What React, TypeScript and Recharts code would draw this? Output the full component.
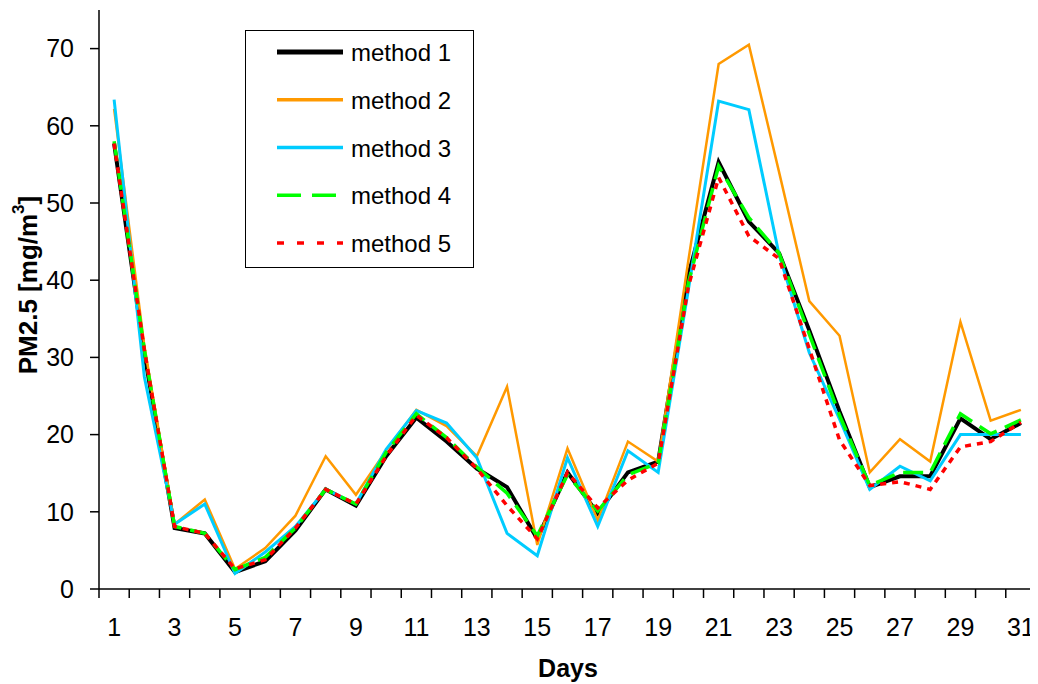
import React from 'react';
import { LineChart, Line, XAxis, YAxis, Legend, Label } from 'recharts';

const DAYS = [
  1, 2, 3, 4, 5, 6, 7, 8, 9, 10, 11, 12, 13, 14, 15, 16, 17, 18, 19, 20, 21, 22, 23, 24, 25, 26,
  27, 28, 29, 30, 31,
];

const METHOD_1 = [
  57.7, 30.5, 7.9, 7.2, 2.2, 3.6, 7.6, 12.9, 10.8, 17.2, 22.2, 19.1, 15.6, 13.2, 6.5, 15.1, 9.8,
  15.1, 16.5, 40.7, 55.3, 47.6, 43.5, 33.5, 23.0, 13.2, 14.6, 14.6, 22.1, 19.4, 21.5,
];
const METHOD_2 = [
  62.2, 31.5, 8.4, 11.6, 2.6, 5.3, 9.5, 17.2, 12.2, 17.9, 23.2, 21.1, 17.2, 26.2, 5.7, 18.2, 8.9,
  19.1, 16.5, 42.6, 68.0, 70.5, 54.0, 37.3, 32.8, 15.1, 19.4, 16.5, 34.6, 21.8, 23.2,
];
const METHOD_3 = [
  63.4, 27.5, 8.4, 11.0, 2.0, 4.8, 8.1, 12.9, 11.0, 18.1, 23.1, 21.5, 17.0, 7.2, 4.3, 17.0, 8.1,
  17.9, 15.1, 38.8, 63.2, 62.1, 43.3, 30.6, 22.0, 12.9, 15.9, 14.0, 20.0, 20.0, 20.0,
];
const METHOD_4 = [
  58.0, 31.0, 8.1, 7.2, 2.5, 4.1, 7.9, 12.9, 11.0, 17.7, 22.7, 19.6, 15.8, 12.4, 6.9, 14.8, 10.1,
  14.8, 16.3, 39.7, 54.8, 48.1, 43.5, 33.0, 22.5, 13.4, 15.1, 15.1, 22.7, 20.1, 21.9,
];
const METHOD_5 = [
  57.7, 31.0, 8.1, 7.2, 2.6, 3.8, 7.9, 12.9, 11.0, 17.2, 22.5, 19.6, 15.6, 10.8, 6.5, 15.1, 10.5,
  14.1, 16.3, 39.2, 53.3, 45.7, 42.8, 31.1, 19.3, 13.4, 13.9, 12.9, 18.4, 19.1, 21.6,
];

const Y_TICKS = [0, 10, 20, 30, 40, 50, 60, 70];

const SERIES = [
  { key: 'm1', name: 'method 1', color: '#000000', width: 4, dash: undefined, legendDash: undefined },
  { key: 'm2', name: 'method 2', color: '#FF9900', width: 2.5, dash: undefined, legendDash: undefined },
  { key: 'm3', name: 'method 3', color: '#00CCFF', width: 3, dash: undefined, legendDash: undefined },
  { key: 'm4', name: 'method 4', color: '#00FF00', width: 3.5, dash: '20 9', legendDash: '24 11' },
  { key: 'm5', name: 'method 5', color: '#FF0000', width: 3.5, dash: '6 6', legendDash: '7 13' },
];

const data = DAYS.map((day, i) => ({
  day,
  m1: METHOD_1[i],
  m2: METHOD_2[i],
  m3: METHOD_3[i],
  m4: METHOD_4[i],
  m5: METHOD_5[i],
}));

const FONT = '"Liberation Sans", Arial, sans-serif';
const W = 1030;
const H = 676;
const Y_AXIS_W = 91;
const RIGHT = 2;
const HALF = (W - Y_AXIS_W - RIGHT) / DAYS.length / 2;

function DayTick(props: any) {
  const { x, y, payload } = props;
  const d = payload.value;
  return (
    <g>
      <line x1={x - HALF} x2={x - HALF} y1={y} y2={y + 9} stroke="#000" strokeWidth={1.5} />
      {d === DAYS[DAYS.length - 1] && (
        <line x1={x + HALF} x2={x + HALF} y1={y} y2={y + 9} stroke="#000" strokeWidth={1.5} />
      )}
      {d % 2 === 1 && (
        <text x={x} y={y + 47} textAnchor="middle" fill="#000" fontSize={25} fontFamily={FONT}>
          {d}
        </text>
      )}
    </g>
  );
}

function LegendBox() {
  return (
    <div
      style={{
        width: 229,
        height: 238,
        border: '1.5px solid #000',
        boxSizing: 'border-box',
        background: '#fff',
      }}
    >
      <svg width={226} height={235}>
        {SERIES.map((s, i) => {
          const cy = 21 + i * 47.75;
          return (
            <g key={s.key}>
              <line
                x1={31}
                x2={97}
                y1={cy}
                y2={cy}
                stroke={s.color}
                strokeWidth={s.key === 'm1' ? 5 : 3.5}
                strokeDasharray={s.legendDash}
              />
              <text x={105} y={cy + 9} fontSize={24} fontFamily={FONT} fill="#000">
                {s.name}
              </text>
            </g>
          );
        })}
      </svg>
    </div>
  );
}

export default function App() {
  return (
    <LineChart width={W} height={H} data={data} margin={{ top: 2, right: RIGHT, left: 0, bottom: 0 }}>
      <XAxis
        dataKey="day"
        type="number"
        domain={[0.5, 31.5]}
        ticks={DAYS}
        interval={0}
        tickSize={0}
        tickMargin={0}
        tickLine={false}
        tick={<DayTick />}
        height={95}
        axisLine={{ stroke: '#000', strokeWidth: 1.5 }}
      >
        <Label
          content={() => (
            <text x={560} y={669} textAnchor="middle" fontSize={25} fontWeight="bold" fontFamily={FONT} fill="#000">
              Days
            </text>
          )}
        />
      </XAxis>
      <YAxis
        type="number"
        domain={[0, 75]}
        ticks={Y_TICKS}
        interval={0}
        width={Y_AXIS_W}
        tickSize={9}
        tickMargin={16}
        tick={{ fill: '#000', fontSize: 25, fontFamily: FONT }}
        tickLine={{ stroke: '#000', strokeWidth: 1.5 }}
        axisLine={{ stroke: '#000', strokeWidth: 1.5 }}
      >
        <Label
          content={() => (
            <text
              x={20}
              y={277}
              transform="rotate(-90, 20, 277)"
              textAnchor="middle"
              dominantBaseline="central"
              fontSize={26}
              fontWeight="bold"
              fontFamily={FONT}
              fill="#000"
            >
              PM2.5 [mg/m
              <tspan fontSize={17} dy={-10}>
                3
              </tspan>
              <tspan dy={10}>]</tspan>
            </text>
          )}
        />
      </YAxis>
      <Legend
        layout="vertical"
        align="center"
        verticalAlign="middle"
        content={() => <LegendBox />}
        wrapperStyle={{ left: 237, top: 22, width: 229, height: 238 }}
      />
      {SERIES.map((s) => (
        <Line
          key={s.key}
          type="linear"
          dataKey={s.key}
          name={s.name}
          stroke={s.color}
          strokeWidth={s.width}
          strokeDasharray={s.dash}
          dot={false}
          activeDot={false}
          isAnimationActive={false}
        />
      ))}
    </LineChart>
  );
}
